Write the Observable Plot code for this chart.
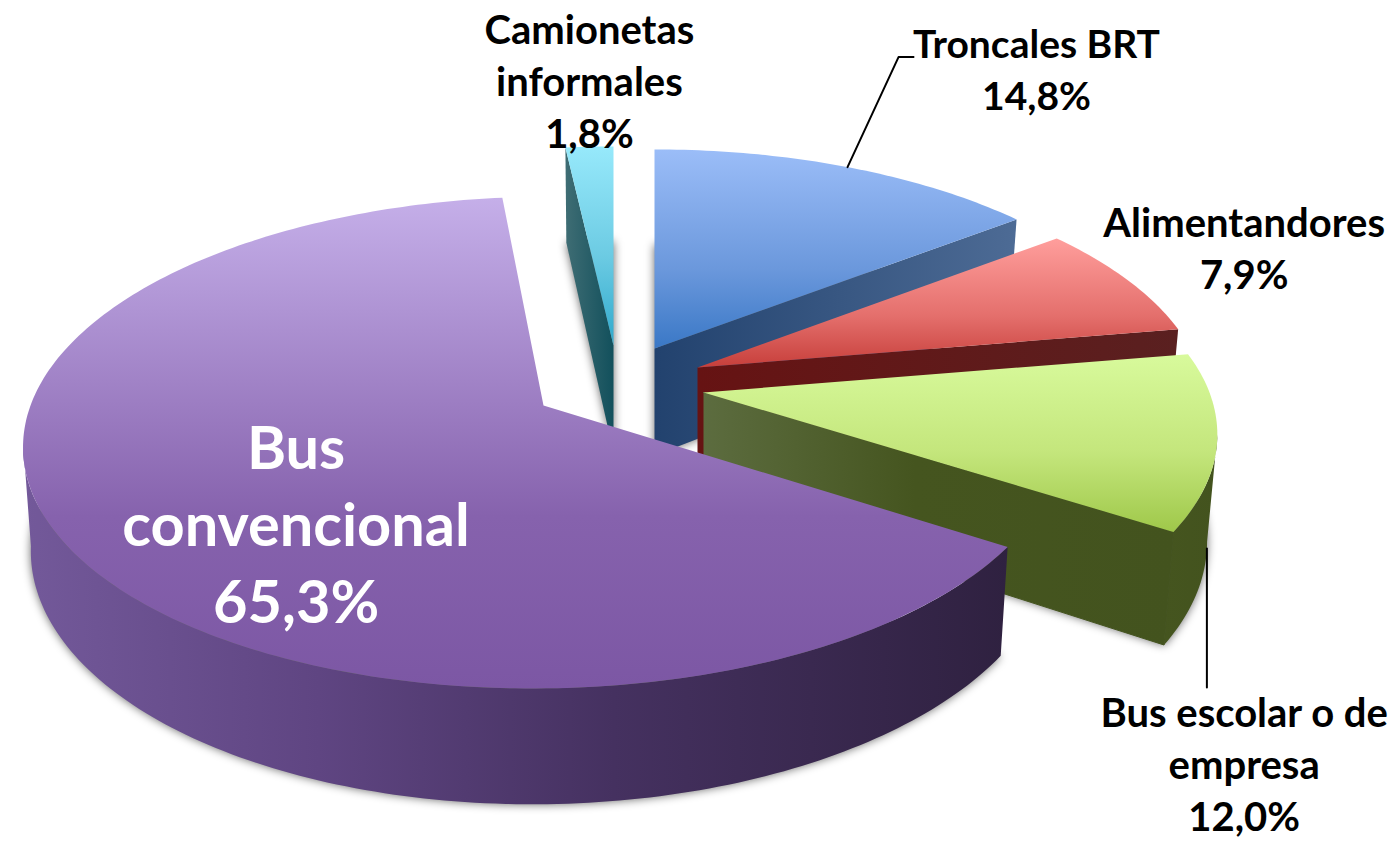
<!DOCTYPE html>
<html>
<head>
<meta charset="utf-8">
<script src="https://cdn.jsdelivr.net/npm/d3@7"></script>
<script src="https://cdn.jsdelivr.net/npm/@observablehq/plot@0.6"></script>
<style>html,body{margin:0;padding:0;background:#fff}svg{display:block}</style>
</head>
<body>
<div id="chart"></div>
<script>
// ---- data (clockwise from 12 o'clock)
const categories = ["Troncales BRT", "Alimentandores", "Bus escolar o de\nempresa", "Bus\nconvencional", "Camionetas\ninformales"];
const shares = [14.8, 7.9, 12.0, 65.3, 1.8];
const shareLabels = ["14,8%", "7,9%", "12,0%", "65,3%", "1,8%"];

// ---- layout (projection of the tilted pie, per exploded slice)
const W = 1395, H = 841;
const apexX = [654, 697, 703, 543, 613];
const apexY = [348, 367, 392, 405, 345];
const radA = [506, 502, 506, 513, 509];
const radB = [233.7, 233.7, 233.7, 240.4, 233.7];
const persp = [0.174, 0.174, 0.174, 0.1504, 0.174];
const depth = [107, 107, 105, 102, 107];
const lowerScale = [0.98, 0.98, 0.98, 0.985, 0.98];
const shear = [0, 0, 0, -0.04, 0];
const sideFace = ["end", "end", "end", null, "start"];
const sideSeam = [0, 0, 1, 0, 0];
const hasRim = [false, false, true, true, false];
const paintOrder = [4, 0, 1, 2, 3];
const labelDx = [189, 117, 27, 231.5, 0];
const labelDy = [-100, -33, 322, -21.5, -67];
const labelSize = [39, 40, 40, 59.5, 40];
const labelLine = [1.33, 1.3, 1.3, 1.295, 1.3];
const labelFill = ["#000", "#000", "#000", "#fff", "#000"];
const topStops = [
  [["0", "#9bbdf8"], ["0.6", "#6b98dc"], ["1", "#3a78c6"]],
  [["0", "#ff9e9c"], ["0.6", "#e46f6c"], ["1", "#c73f3b"]],
  [["0", "#d8fa9c"], ["0.55", "#c4e67c"], ["1", "#9fc84a"]],
  [["0", "#c5afe9"], ["0.65", "#8662ad"], ["1", "#7c57a4"]],
  [["0", "#97e9fb"], ["0.55", "#6ccbe3"], ["1", "#2fa9cc"]]
];
const sideStops = [
  [["0", "#22426e"], ["1", "#4d6b95"]],
  [["0", "#661313"], ["1", "#5a2020"]],
  [["0", "#5c6c3f"], ["0.45", "#45551f"], ["1", "#43531e"]],
  null,
  [["0", "#3f6d74"], ["1", "#12505c"]]
];
const rimStops = [
  null, null,
  [["0", "#45551f"], ["1", "#43531e"]],
  [["0", "#73599a"], ["0.3", "#5f4582"], ["0.6", "#453160"], ["1", "#2f2140"]],
  null
];

// ---- geometry computed from the shares
const total = d3.sum(shares);
const angles = [];
{ let t = -90; for (const s of shares) { angles.push([t, t + s / total * 360]); t += s / total * 360; } }

function project(i, deg, lower) {
  const r = deg * Math.PI / 180, u = Math.cos(r), v = Math.sin(r), w = 1 - persp[i] * v;
  const s = lower ? lowerScale[i] : 1;
  const X = radA[i] * u / w, Y = radB[i] * v / w;
  return { x: apexX[i] + s * (X + shear[i] * Y), y: apexY[i] + s * Y + (lower ? depth[i] / w : 0) };
}
function apex(i, lower) { return { x: apexX[i], y: apexY[i] + (lower ? depth[i] : 0) }; }
function arc(i, from, to, lower) {
  const n = Math.max(2, Math.ceil(Math.abs(to - from)));
  return d3.range(n + 1).map(k => project(i, from + (to - from) * k / n, lower));
}
const face = (pts, fill, extra = {}) => Plot.line(pts, { x: "x", y: "y", fill, stroke: "none", ...extra });

const gradientDefs = () => {
  const defs = d3.create("svg:defs");
  const add = (id, stops, vertical) => {
    const g = defs.append("linearGradient").attr("id", id)
      .attr("x1", 0).attr("y1", 0).attr("x2", vertical ? 0 : 1).attr("y2", vertical ? 1 : 0);
    for (const [o, c] of stops) g.append("stop").attr("offset", o).attr("stop-color", c);
  };
  categories.forEach((_, i) => {
    add(`top${i}`, topStops[i], true);
    if (sideStops[i]) add(`side${i}`, sideStops[i], false);
    if (rimStops[i]) add(`rim${i}`, rimStops[i], false);
  });
  return defs.node();
};

const sliceMarks = paintOrder.flatMap(i => {
  const [a0, a1] = angles[i], out = [];
  // soft shadow from the footprint of the slice
  out.push(face([apex(i, true), ...arc(i, a0, a1, true)], "rgba(0,0,0,0.6)", { imageFilter: "blur(5px)" }));
  if (hasRim[i]) {
    // only the part of the rim between the two silhouette angles faces the viewer
    const silhouette = Math.asin(persp[i]) * 180 / Math.PI;
    const from = Math.max(a0, silhouette), to = Math.min(a1, 180 - silhouette);
    out.push(face([...arc(i, from, to, false), ...arc(i, to, from, true)], `url(#rim${i})`));
  }
  if (sideFace[i]) {
    const t = sideFace[i] === "end" ? a1 : a0;
    const seam = sideSeam[i] ? { stroke: `url(#side${i})`, strokeWidth: 1 } : {};
    out.push(face([apex(i, false), project(i, t, false), project(i, t, true), apex(i, true)], `url(#side${i})`, seam));
  }
  out.push(face([apex(i, false), ...arc(i, a0, a1, false)], `url(#top${i})`));
  return out;
});

// leader lines start at the rim of their slice
const midAngle = i => (angles[i][0] + angles[i][1]) / 2;
const lead0 = project(0, midAngle(0), false);
const lead2 = project(2, midAngle(2), true);
const leaderA = [lead0, { x: lead0.x + 51, y: lead0.y - 110 }, { x: lead0.x + 66, y: lead0.y - 110 }];
const leaderB = [lead2, { x: lead2.x, y: lead2.y + 139 }];

const labelMarks = categories.map((c, i) => {
  const p = project(i, midAngle(i), false);
  return Plot.text([{ x: p.x + labelDx[i], y: p.y + labelDy[i], t: `${c}\n${shareLabels[i]}` }], {
    x: "x", y: "y", text: "t", fill: labelFill[i], fontSize: labelSize[i], fontWeight: 700,
    fontFamily: "Lato", lineHeight: labelLine[i], textAnchor: "middle", lineAnchor: "middle"
  });
});

const chart = Plot.plot({
  width: W, height: H, margin: 0,
  x: { domain: [0, W], range: [0, W], axis: null },
  y: { domain: [0, H], range: [0, H], axis: null },
  marks: [
    gradientDefs,
    ...sliceMarks,
    Plot.line(leaderA, { x: "x", y: "y", stroke: "#000", strokeWidth: 2 }),
    Plot.line(leaderB, { x: "x", y: "y", stroke: "#000", strokeWidth: 2 }),
    ...labelMarks
  ]
});
document.getElementById("chart").append(chart);
</script>
</body>
</html>
